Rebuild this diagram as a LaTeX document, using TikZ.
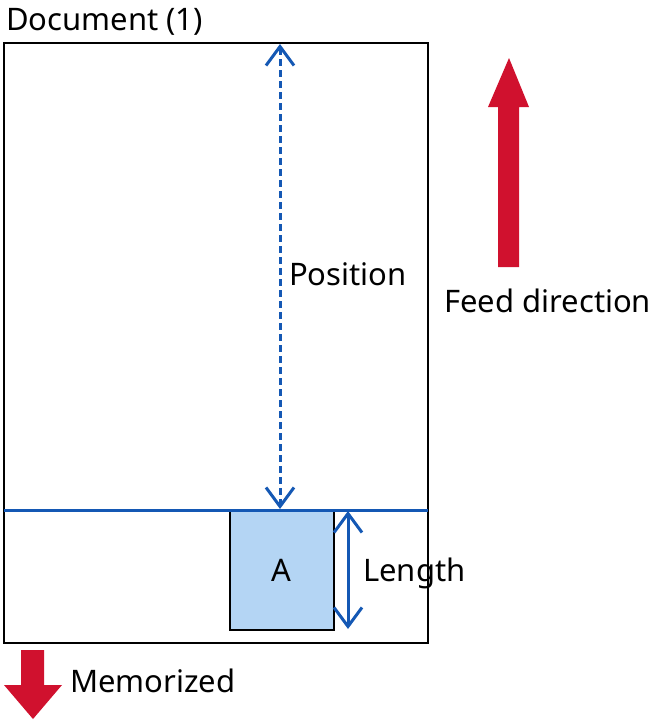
\documentclass[tikz,border=0pt]{standalone}
\usepackage{fontspec}
\setmainfont{Noto Sans}
\usepackage{xcolor}
\usepackage{tikz}
\usetikzlibrary{positioning, calc, arrows.meta}
\definecolor{feedred}{RGB}{208,17,46}
\definecolor{markblue}{RGB}{20,88,180}
\definecolor{areafill}{RGB}{180,213,244}

\begin{document}
\begin{tikzpicture}[x=1pt, y=-1pt, font=\fontsize{31}{36}\selectfont,
  dimarrow/.style={markblue, line width=3pt, {Straight Barb[length=19pt, width=28pt]}-{Straight Barb[length=19pt, width=28pt]}}]

% canvas in pixel units, y grows downwards
\useasboundingbox (0,0) rectangle (654,720);

%% ── document sheet ───────────────────────────────────────────────
\draw[line width=2pt] (4,43) rectangle (428,643);
\node[anchor=base west, inner sep=0pt] (doclabel) at (6,30) {Document (1)};

%% ── memorized area ───────────────────────────────────────────────
\coordinate (cutL) at (4,510);
\coordinate (cutR) at (428,510);
\node[draw, line width=1.5pt, fill=areafill, minimum width=104pt, minimum height=119pt,
  inner sep=0pt, anchor=north west] (boxA) at (229,510) {A};
\draw[markblue, line width=3pt] (cutL) -- (cutR);

%% ── dimensions ───────────────────────────────────────────────────
\coordinate (postop) at (280,44);
\coordinate (posbot) at (280,509);
\draw[dimarrow, dash pattern=on 7pt off 4pt] (postop) -- (posbot);
\node[anchor=west, inner sep=0pt] (poslabel) at (289,274) {Position};

\coordinate (lentop) at (348,511);
\coordinate (lenbot) at (348,629);
\draw[dimarrow] (lentop) -- (lenbot);
\node[anchor=west, inner sep=0pt] (lenlabel) at (363,573) {Length};

%% ── feed direction ───────────────────────────────────────────────
\fill[feedred] (498,267) -- (498,107) -- (488,107) -- (509,58) -- (529,107)
  -- (519,107) -- (519,267) -- cycle;
\node[anchor=west, inner sep=0pt] (feedlabel) at (444,301) {Feed direction};

%% ── memorized marker ─────────────────────────────────────────────
\fill[feedred] (21,650) -- (44,650) -- (44,685) -- (62,685) -- (33,719)
  -- (4,685) -- (21,685) -- cycle;
\node[anchor=west, inner sep=0pt] (memlabel) at (70,681) {Memorized};

\end{tikzpicture}
\end{document}
